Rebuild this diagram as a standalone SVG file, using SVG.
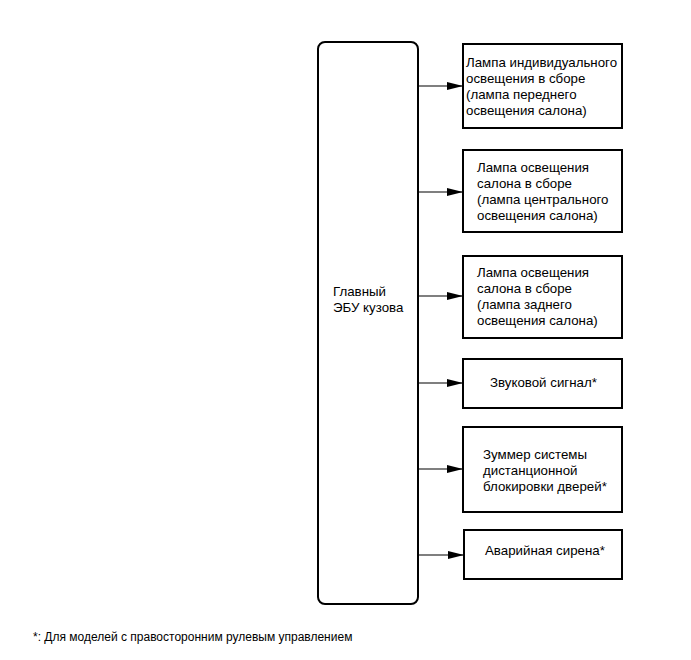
<svg xmlns="http://www.w3.org/2000/svg" width="691" height="660" viewBox="0 0 691 660">
<defs>
<style>
.box{fill:#fff;stroke:#000;stroke-width:2}
.t{font-family:"Liberation Sans",Arial,sans-serif;font-size:13.3px;fill:#000}
.c{stroke:#000;stroke-width:1.2;fill:none}
</style>
<marker id="arr" markerUnits="userSpaceOnUse" markerWidth="16" markerHeight="8" refX="16" refY="4" orient="auto">
<path d="M0,0 L16,4 L0,8 Z" fill="#000"/>
</marker>
</defs>
<rect width="691" height="660" fill="#fff"/>
<g id="ecu">
<rect class="box" x="318" y="42" width="100" height="562" rx="7"/>
<text class="t" x="333" y="296">Главный</text>
<text class="t" x="333" y="312">ЭБУ кузова</text>
</g>
<g id="connectors">
<line class="c" x1="418" y1="86" x2="463" y2="86" marker-end="url(#arr)"/>
<line class="c" x1="418" y1="192" x2="463" y2="192" marker-end="url(#arr)"/>
<line class="c" x1="418" y1="296" x2="463" y2="296" marker-end="url(#arr)"/>
<line class="c" x1="418" y1="383" x2="463" y2="383" marker-end="url(#arr)"/>
<line class="c" x1="418" y1="469" x2="463" y2="469" marker-end="url(#arr)"/>
<line class="c" x1="418" y1="555" x2="464" y2="555" marker-end="url(#arr)"/>
</g>
<g id="n1">
<rect class="box" x="463" y="44" width="159" height="84"/>
<text class="t" x="466" y="67">Лампа индивидуального</text>
<text class="t" x="466" y="83">освещения в сборе</text>
<text class="t" x="466" y="99">(лампа переднего</text>
<text class="t" x="466" y="115">освещения салона)</text>
</g>
<g id="n2">
<rect class="box" x="463" y="150" width="159" height="82"/>
<text class="t" x="477" y="172">Лампа освещения</text>
<text class="t" x="477" y="188">салона в сборе</text>
<text class="t" x="477" y="204">(лампа центрального</text>
<text class="t" x="477" y="220">освещения салона)</text>
</g>
<g id="n3">
<rect class="box" x="463" y="256" width="159" height="82"/>
<text class="t" x="477" y="277">Лампа освещения</text>
<text class="t" x="477" y="293">салона в сборе</text>
<text class="t" x="477" y="309">(лампа заднего</text>
<text class="t" x="477" y="325">освещения салона)</text>
</g>
<g id="n4">
<rect class="box" x="463" y="359" width="159" height="49"/>
<text class="t" x="490" y="387">Звуковой сигнал*</text>
</g>
<g id="n5">
<rect class="box" x="463" y="427" width="159" height="85"/>
<text class="t" x="483" y="459">Зуммер системы</text>
<text class="t" x="483" y="475">дистанционной</text>
<text class="t" x="483" y="491">блокировки дверей*</text>
</g>
<g id="n6">
<rect class="box" x="464" y="530" width="158" height="49"/>
<text class="t" x="485" y="555">Аварийная сирена*</text>
</g>
<text class="t" x="33" y="641" style="font-size:12px">*: Для моделей с правосторонним рулевым управлением</text>
</svg>
